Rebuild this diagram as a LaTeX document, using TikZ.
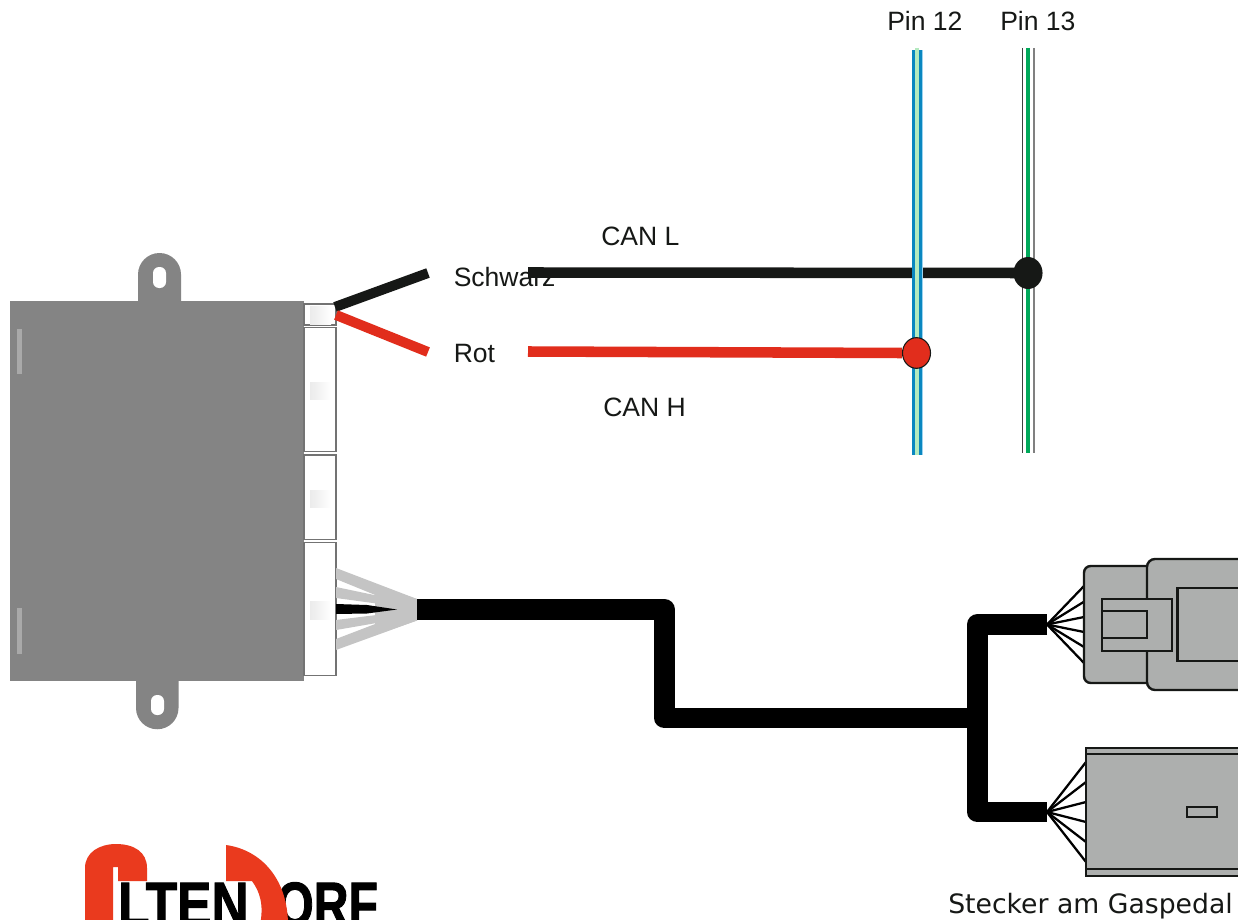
\documentclass[tikz,border=0pt]{standalone}
\usepackage{fontspec}
\setmainfont{Liberation Sans}
\newfontfamily\dejavu{DejaVu Sans}
\newfontfamily\logofont{Liberation Sans}[BoldFeatures={FakeBold=1.6}]
\usetikzlibrary{shapes.geometric}
\definecolor{boxgrey}{HTML}{848484}
\definecolor{barlight}{HTML}{A9A9A9}
\definecolor{fangrey}{HTML}{C4C4C4}
\definecolor{plug}{HTML}{ADAFAE}
\definecolor{ink}{HTML}{161816}
\definecolor{wirered}{HTML}{E12D1C}
\definecolor{logored}{HTML}{EA3A1E}
\definecolor{pinblue}{HTML}{0A87C0}
\definecolor{pinlight}{HTML}{9CD3EE}
\definecolor{pingreen}{HTML}{B4EABF}
\definecolor{wiregreen}{HTML}{00A85A}
\tikzset{
  x=0.75pt,y=-0.75pt,
  label text/.style={inner sep=0pt,anchor=base west,text=ink,font=\fontsize{19.9}{22}\selectfont},
  plug line/.style={draw=ink,line width=1.8pt,fill=plug},
  thin wire/.style={draw=black,line width=1.7pt},
  cable/.style={draw=black,line width=15.6pt,line join=round},
  lead/.style={line width=7.5pt},
  slot box/.style={draw=black!55,fill=white,line width=0.8pt},
  shade square/.style={left color=black!8,right color=white,draw=none},
  fan/.style={fill=fangrey,draw=none},
  logo text/.style={inner sep=0pt,anchor=base west,text=black,font=\logofont\bfseries\fontsize{47}{47}\selectfont},
}
\begin{document}
\begin{tikzpicture}
\clip (0,0) rectangle (1238,920);
\fill[white] (0,0) rectangle (1238,920);

% control unit
\fill[boxgrey] (10,300.5) rectangle (304,681);
\fill[boxgrey] (138,301) -- (138,274.5) arc[start angle=180,end angle=360,radius=21.5] -- (181,301) -- cycle;
\fill[boxgrey] (136,680) -- (136,708) arc[start angle=180,end angle=0,radius=21.25] -- (178.5,680) -- cycle;
\fill[white,rounded corners=4.5pt] (153,267) rectangle (166,288);
\fill[white,rounded corners=4.5pt] (151,695) rectangle (164,715);
\fill[barlight] (17,329) rectangle (21.5,374);
\fill[barlight] (17,608) rectangle (21.5,654);
\foreach \t/\b in {304/325,327.5/451.5,455/539.5,542.5/675.5}
  \draw[slot box] (304,\t) rectangle (336,\b);
\foreach \t/\b in {306/324,382/399,490/507,601/619}
  \shade[shade square] (310,\t) rectangle (331,\b);

% short leads
\coordinate (blackA) at (335,307);
\coordinate (blackB) at (428,273);
\coordinate (redA) at (336,315);
\coordinate (redB) at (428,352);
\draw[lead,ink] (blackA) -- (blackB);
\draw[lead,wirered] (redA) -- (redB);

% grey fan
\fill[fan] (336,568) -- (417,599) -- (417,612) -- (336,579) -- cycle;
\fill[fan] (336,587) -- (417,604) -- (417,609) -- (336,598) -- cycle;
\fill[fan] (336,620) -- (417,610) -- (417,616) -- (336,630) -- cycle;
\fill[fan] (336,639) -- (417,608) -- (417,620.5) -- (336,650) -- cycle;
\fill[fan] (375,585) -- (417,599) -- (417,620.5) -- (375,635) -- cycle;
\fill[black] (336,604) -- (367,605) -- (397,609.5) -- (367,613.5) -- (336,614) -- cycle;

% labels under the lines
\node[label text] (schwarz) at (453.5,286) {Schwarz};
\node[label text] (rot) at (453.5,362) {Rot};
\node[label text] (canl) at (601,245) {CAN L};
\node[label text] (canh) at (603,416) {CAN H};
\node[label text] (pin12) at (887,31) {Pin 12};
\node[label text] (pin13) at (1000,31) {Pin 13};

% pin 13 wire
\coordinate (p13t) at (1027.8,48);
\coordinate (p13b) at (1027.8,453);
\draw[black!75,line width=0.7pt] (1022,48) -- (1022,453);
\draw[black!50,line width=1.2pt] (1033.7,48) -- (1033.7,453);
\draw[wiregreen,line width=3.2pt] (p13t) -- (p13b);

% can lines
\coordinate (canlstart) at (528,272.5);
\coordinate (canhstart) at (528,351.5);
\node[ellipse,fill=ink,draw=none,minimum width=21.8pt,minimum height=24pt,inner sep=0pt] (dot13) at (1028,273) {};
\draw[ink,line width=7.9pt] (canlstart) -- (dot13.center);

% pin 12 wire
\coordinate (p12t) at (917.2,48);
\coordinate (p12b) at (917.2,455);
\fill[pinblue] (911.7,50) rectangle (921.7,455);
\fill[pinlight] (921.7,50) rectangle (922.7,455);
\draw[pingreen,line width=3.4pt] (p12t) -- (p12b);

\node[ellipse,fill=wirered,draw=ink,line width=0.8pt,minimum width=21pt,minimum height=23pt,inner sep=0pt] (dot12) at (916.5,353) {};
\draw[wirered,line width=7.9pt] (canhstart) -- (dot12.west);

% main cable
\coordinate (fanend) at (417,609.5);
\coordinate (kneeA) at (664.5,609.5);
\coordinate (kneeB) at (664.5,718);
\coordinate (branch) at (977.5,718);
\coordinate (hubA) at (1047,624.5);
\coordinate (hubB) at (1047,812);
\coordinate (cornerA) at (977.5,624.5);
\coordinate (cornerB) at (977.5,812);
\draw[cable] (fanend) -- (kneeA) -- (kneeB) -- (branch);
\draw[cable] (hubA) -- (cornerA) -- (cornerB) -- (hubB);

% upper plug
\foreach \y in {586,601.7,617,632,647,663}
  \draw[thin wire] (hubA) -- (1084,\y);
\draw[plug line,rounded corners=5pt] (1160,566) -- (1084,566) -- (1084,683) -- (1160,683);
\draw[plug line,rounded corners=6pt] (1260,559) -- (1147,559) -- (1147,690) -- (1260,690);
\draw[plug line] (1102,599) rectangle (1172,651);
\draw[plug line] (1102,611) rectangle (1147,638);
\draw[plug line] (1177.5,588) rectangle (1260,661);

% lower plug
\foreach \y in {762,782,802,822,842,862}
  \draw[thin wire] (hubB) -- (1086,\y);
\draw[plug line] (1260,748) -- (1086,748) -- (1086,876) -- (1260,876);
\draw[draw=ink,line width=1.8pt] (1086,754) -- (1260,754);
\draw[draw=ink,line width=1.8pt] (1086,869) -- (1260,869);
\draw[plug line] (1187,807) rectangle (1217,817);
\node[inner sep=0pt,anchor=base west,text=ink,font=\dejavu\fontsize{20}{22}\selectfont] (stecker) at (948,913) {Stecker am Gaspedal};

% logo
\node[logo text,xscale=0.77] (orf) at (276,926) {ORF};
\fill[logored] (85,925) -- (85,868) .. controls (85,852) and (100,844) .. (116,844) .. controls (134,844) and (147,852) .. (147,868) -- (147,881) -- (118,881) -- (118,867) -- (113,867) -- (113,925) -- cycle;
\fill[logored] (226,845) .. controls (262,850) and (288,880) .. (288,925) -- (260,925) .. controls (264,905) and (260,892) .. (252,881) -- (226,881) -- cycle;
\node[logo text,xscale=0.82] (lten) at (118,926) {LTEN};
\end{tikzpicture}
\end{document}
